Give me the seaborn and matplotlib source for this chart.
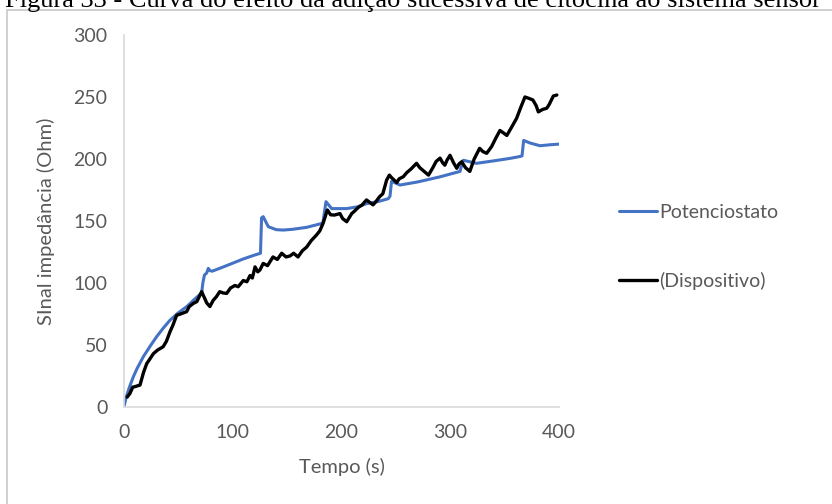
import matplotlib
matplotlib.use("Agg")
import matplotlib.pyplot as plt
import matplotlib.patches as patches
import seaborn as sns

# Potenciostato (blue)
pot_t = [0, 2, 5, 8.6, 12, 17.8, 24, 30, 36, 42.3, 50, 57.6, 65, 71.4, 72.5, 74, 76, 77.5,
         79, 81, 90, 100, 110, 120, 125.5, 126.5, 128, 132.7, 140, 146.5, 155, 168, 181.8,
         183, 185.7, 191, 204.8, 215, 223, 235, 243, 244.6, 246, 253.8, 270, 290, 309,
         310.5, 312, 324, 340, 355, 364, 366, 367.5, 373, 382.5, 392, 400]
pot_z = [0, 8, 16, 24.4, 31, 40.6, 49, 56.7, 63.5, 70, 76, 80.9, 87, 92, 100, 106.5, 108, 111.8,
         110, 109.5, 112.5, 116, 119.5, 122.5, 124, 152.5, 153.5, 145.4, 143, 142.7, 143.3, 144.9, 148,
         149, 165.6, 160, 160, 161.5, 164, 166, 168, 170, 182, 179, 181.5, 185.5, 190,
         195, 199, 196.5, 198.5, 200.5, 202, 202.5, 215, 213, 210.7, 211.5, 212]

# Dispositivo (black)
dis_t = [3, 5.5, 8, 10, 14.7, 18, 20.9, 24, 27, 31, 36, 39, 42.3, 45, 48.4, 52, 57.6, 60, 63.7,
         67, 71.4, 74, 76, 79, 82, 85, 88, 91, 94.4, 98, 102, 105, 109.7, 113, 115.9, 118, 120.5,
         123, 125, 128, 132, 137, 141, 145, 149, 152.6, 156, 160, 164, 168, 172, 177, 180, 183,
         187, 190, 193.6, 198.6, 201, 204.8, 209.4, 212, 215.5, 219, 223, 226, 229, 232, 235,
         238, 241.5, 244, 246, 250.8, 253, 256.8, 260, 264, 269, 272, 276, 280, 284, 287, 290.6,
         293, 295, 297, 299.8, 303, 306, 308, 310.5, 314, 318, 322, 327, 330, 333.5, 338, 342,
         345.7, 349, 352, 356, 361, 365, 368.7, 372, 376, 379, 381, 385, 388.7, 391, 394.8, 398]
dis_z = [8, 11, 16, 16.4, 17.7, 28, 35, 39, 43, 46, 48.6, 53, 60.7, 66, 74, 75, 76.9, 81, 83.5,
         85, 93, 88, 84, 81, 86, 89, 93, 92, 91.6, 96, 98, 97, 102, 101, 106, 104, 113,
         109, 110.5, 115.8, 114, 121, 119, 124, 121, 121.8, 124, 121, 126, 129, 134, 138.7, 142, 148,
         158.9, 155, 154.8, 156, 152, 149.4, 156, 158, 161, 163, 167, 165, 163, 166, 169.6,
         172, 183, 187, 185, 181, 184, 185.7, 189, 192, 196.5, 193, 190, 187, 193, 198, 200.7,
         197, 195, 199, 203, 197, 192.5, 196, 197.8, 193, 190, 200, 208.6, 206, 204.6, 210, 217,
         223, 221, 219, 225, 232.8, 242, 250, 249, 247.6, 243, 238, 240, 240.9, 244, 250.8, 251.6]

x_ticks = [0, 100, 200, 300, 400]
y_ticks = [0, 50, 100, 150, 200, 250, 300]

sns.set_style("white")
plt.rcParams['font.family'] = ['Lato', 'DejaVu Sans']

txt = '#595959'
fig = plt.figure(figsize=(8.32, 5.04), dpi=100)
ax = fig.add_axes([124/832, 1 - 407/504, 435/832, 372/504])

sns.lineplot(x=pot_t, y=pot_z, ax=ax, color='#4472C4', linewidth=2.2,
             label='Potenciostato', estimator=None, sort=False)
sns.lineplot(x=dis_t, y=dis_z, ax=ax, color='black', linewidth=2.4,
             label='(Dispositivo)', estimator=None, sort=False)

ax.set_xlim(0, 400)
ax.set_ylim(0, 300)
ax.set_xticks(x_ticks)
ax.set_yticks(y_ticks)
ax.tick_params(length=0, labelsize=14, labelcolor=txt, pad=12)
for s in ['top', 'right']:
    ax.spines[s].set_visible(False)
for s in ['left', 'bottom']:
    ax.spines[s].set_color('#D9D9D9')
    ax.spines[s].set_linewidth(1.2)

ax.set_xlabel('Tempo (s)', fontsize=14.5, color=txt)
ax.set_ylabel('SInal impedância (Ohm)', fontsize=14.5, color=txt)
ax.xaxis.label.set_va('center')
ax.yaxis.label.set_va('center')
ax.xaxis.set_label_coords(0.5, (407 - 467) / 372)
ax.yaxis.set_label_coords((46 - 124) / 435, 0.5)

leg = ax.legend(loc='center left', bbox_to_anchor=(609/832, 1 - 247/504),
                bbox_transform=fig.transFigure, frameon=False, fontsize=14,
                handlelength=1.95, handletextpad=0.12, labelspacing=2.6, borderpad=0)
for t in leg.get_texts():
    t.set_color(txt)

# outer frame of the embedded chart
fig.patches.append(patches.Rectangle((7/832, -0.1), 2, 1.1 - 10/504, transform=fig.transFigure,
                                     fill=False, edgecolor='#C8C8C8', linewidth=1.2))

# caption of the figure, cut by the top edge as in the source
fig.text(5/832, 1 - 7/504,
         'Figura 33 - Curva do efeito da adição sucessiva de citocina ao sistema sensor',
         family=['Liberation Serif', 'DejaVu Serif'], fontsize=19.0, va='baseline', color='black')

fig.savefig('out.png', dpi=100)
